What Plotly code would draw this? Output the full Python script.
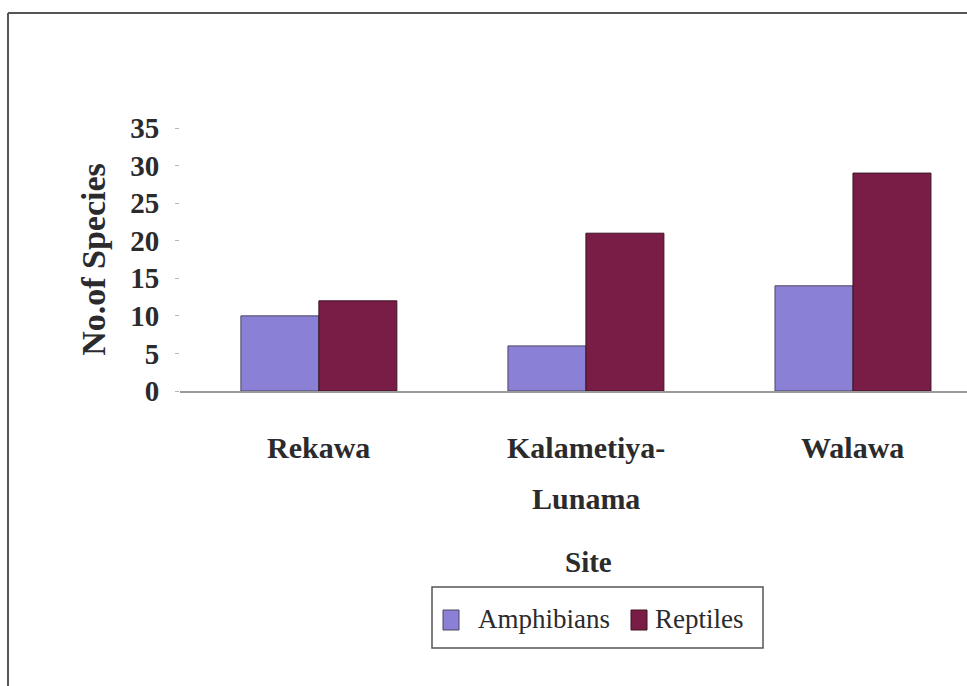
import plotly.graph_objects as go

# Species counts per survey site
sites = ["Rekawa", "Kalametiya-Lunama", "Walawa"]
groups = ["Amphibians", "Reptiles"]
amphibians = [10, 6, 14]
reptiles = [12, 21, 29]
y_ticks = [0, 5, 10, 15, 20, 25, 30, 35]

colors = ["#8a80d6", "#7a1d46"]
edges = ["#4a4660", "#3a1424"]

W, H = 967, 686
# plot-area box in page pixels
PL, PR, PT, PB = 180, 967, 128, 391


def px_x(px):
    return (px - PL) / (PR - PL)


def px_y(py):
    return (PB - py) / (PB - PT)


serif = "Liberation Serif"
ink = "#2b2a2c"

fig = go.Figure()
for name, vals, col, edge in zip(groups, [amphibians, reptiles], colors, edges):
    fig.add_trace(go.Bar(
        x=sites, y=vals, name=name, showlegend=False,
        marker=dict(color=col, line=dict(color=edge, width=1)),
    ))

# category labels, one annotation per line (hyphenated names wrap)
for site in sites:
    if "-" in site:
        head, tail = site.split("-", 1)
        lines = [head + "-", tail]
    else:
        lines = [site]
    for i, line in enumerate(lines):
        fig.add_annotation(
            x=site, xref="x", y=px_y(447 + 51 * i), yref="paper",
            text=f"<b>{line}</b>", showarrow=False, xanchor="center", yanchor="middle",
            font=dict(family=serif, size=30, color=ink),
        )

fig.add_annotation(
    x=px_x(588), xref="paper", y=px_y(562), yref="paper",
    text="<b>Site</b>", showarrow=False, xanchor="center", yanchor="middle",
    font=dict(family=serif, size=29, color=ink),
)

# boxed legend below the axis title
fig.add_shape(type="rect", xref="paper", yref="paper",
              x0=px_x(432), x1=px_x(763), y0=px_y(587), y1=px_y(648),
              line=dict(color="#555555", width=1.5), fillcolor="white")
swatch_x = [443, 631]
text_x = [476, 653]
for name, col, edge, sx, tx in zip(groups, colors, edges, swatch_x, text_x):
    fig.add_shape(type="rect", xref="paper", yref="paper",
                  x0=px_x(sx), x1=px_x(sx + 16), y0=px_y(610), y1=px_y(630),
                  line=dict(color=edge, width=1), fillcolor=col)
    fig.add_annotation(
        x=px_x(tx), xref="paper", y=px_y(619), yref="paper",
        text=name, showarrow=False, xanchor="left", yanchor="middle",
        font=dict(family=serif, size=27, color=ink),
    )

# outer frame (top and left edges visible)
fig.add_shape(type="line", xref="paper", yref="paper",
              x0=px_x(8), x1=px_x(975), y0=px_y(13), y1=px_y(13),
              line=dict(color="#555555", width=2))
fig.add_shape(type="line", xref="paper", yref="paper",
              x0=px_x(8), x1=px_x(8), y0=px_y(13), y1=px_y(690),
              line=dict(color="#555555", width=2))

fig.update_layout(
    width=W, height=H,
    margin=dict(l=PL, r=W - PR, t=PT, b=H - PB, pad=0),
    paper_bgcolor="white", plot_bgcolor="white",
    barmode="group", bargap=0.416, bargroupgap=0,
    font=dict(family=serif, color=ink),
    showlegend=False,
    xaxis=dict(
        range=[-0.52, 2.427], showticklabels=False, ticks="",
        showline=True, linecolor="#9a9a9a", linewidth=1.5,
        showgrid=False, zeroline=False, fixedrange=True,
    ),
    yaxis=dict(
        range=[0, 35], tickvals=y_ticks, ticktext=[f"<b>{v}</b>" for v in y_ticks],
        ticks="outside", ticklen=4, tickcolor="#b5b5b5",
        ticklabelstandoff=10,
        tickfont=dict(family=serif, size=29, color=ink),
        showline=False, showgrid=False, zeroline=False,
        title=dict(text="<b>No.of Species</b>", standoff=14,
                   font=dict(family=serif, size=34, color=ink)),
    ),
)

fig.write_html("out.html")
